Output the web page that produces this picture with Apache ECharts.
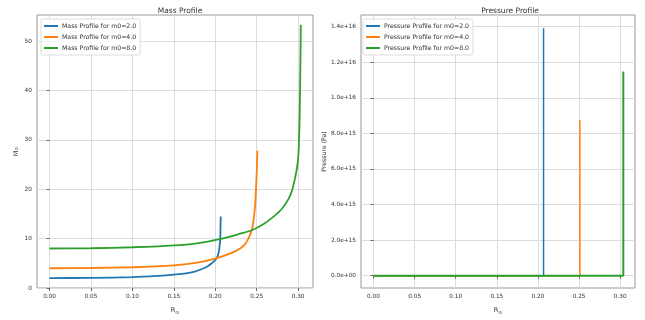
<!DOCTYPE html>
<html>
<head>
<meta charset="utf-8">
<script src="https://cdn.jsdelivr.net/npm/echarts@6/dist/echarts.min.js"></script>
<style>html,body{margin:0;padding:0;background:#fff}#c{width:645px;height:320px}</style>
</head>
<body>
<div id="c"></div>
<script>
// ---- data ----
const xTicks = [0, 0.05, 0.10, 0.15, 0.20, 0.25, 0.30];
const massTicks = [0, 10, 20, 30, 40, 50];
const pressTicks = [0, 2e15, 4e15, 6e15, 8e15, 1.0e16, 1.2e16, 1.4e16];

const massNames = ['Mass Profile for m0=2.0', 'Mass Profile for m0=4.0', 'Mass Profile for m0=8.0'];
const pressNames = ['Pressure Profile for m0=2.0', 'Pressure Profile for m0=4.0', 'Pressure Profile for m0=8.0'];

const mass2R = [0, 0.05, 0.10, 0.13, 0.15, 0.17, 0.18, 0.19, 0.195, 0.199, 0.2016, 0.2035, 0.2048, 0.206, 0.2066];
const mass2M = [2.0, 2.05, 2.2, 2.45, 2.7, 3.1, 3.6, 4.3, 4.9, 5.5, 6.0, 6.8, 7.9, 10.0, 14.5];

const mass4R = [0, 0.05, 0.10, 0.15, 0.18, 0.2008, 0.22, 0.23, 0.236, 0.240, 0.244, 0.2465, 0.248, 0.249, 0.2502, 0.2508];
const mass4M = [4.0, 4.05, 4.2, 4.6, 5.2, 6.0, 7.1, 8.0, 8.9, 10.0, 11.7, 14.0, 16.5, 19.3, 24.0, 27.8];

const mass8R = [0, 0.05, 0.10, 0.157, 0.18, 0.2056, 0.22, 0.2298, 0.244, 0.258, 0.270, 0.2803, 0.2883, 0.2924, 0.2964, 0.2991, 0.3004, 0.3015, 0.3024, 0.3033];
const mass8M = [8.0, 8.05, 8.25, 8.7, 9.1, 9.9, 10.5, 11.0, 11.7, 12.9, 14.4, 16.0, 18.0, 19.6, 22.3, 24.8, 27.0, 32.0, 40.0, 53.3];

const press2R = [0, 0.2068, 0.2068];
const press2P = [0, 0, 1.39e16];
const press4R = [0, 0.2510, 0.2510];
const press4P = [0, 0, 8.73e15];
const press8R = [0, 0.3038, 0.3038];
const press8P = [0, 0, 1.148e16];

const colors = ['#1f77b4', '#ff7f0e', '#2ca02c'];

// ---- build ----
const zip = (a, b) => a.map((v, i) => [v, b[i]]);
const FONT = 'DejaVu Sans';
const fmtX = v => v.toFixed(2);
const fmtP = v => {
  if (v === 0) return '0.0e+00';
  const e = Math.floor(Math.log10(Math.abs(v)) + 1e-9);
  const m = v / Math.pow(10, e);
  return m.toFixed(1) + 'e+' + String(e).padStart(2, '0');
};

function xAxis(gi) {
  return {
    type: 'value', gridIndex: gi, min: -0.0152, max: 0.318,
    name: 'R{s|⊙}', nameLocation: 'middle', nameGap: 17,
    nameTextStyle: { fontFamily: FONT, fontSize: 6.5, color: '#333', rich: { s: { fontSize: 4.5, padding: [5, 0, 0, 0], fontFamily: FONT, color: '#333' } } },
    axisLine: { show: false },
    axisTick: { show: true, length: 3, customValues: xTicks, lineStyle: { color: '#666' } },
    axisLabel: { customValues: xTicks, formatter: fmtX, fontFamily: FONT, fontSize: 5.8, color: '#333', margin: 5 },
    splitLine: { show: true, lineStyle: { color: '#dcdcdc', width: 1 } }
  };
}

function massSeries(i, r, m) {
  return { name: massNames[i], type: 'line', xAxisIndex: 0, yAxisIndex: 0, data: zip(r, m), showSymbol: false,
    smooth: 0.2, lineStyle: { width: 1.8, color: colors[i] }, itemStyle: { color: colors[i] } };
}
function pressSeries(i, r, p, w) {
  return { name: pressNames[i], type: 'line', xAxisIndex: 1, yAxisIndex: 1, data: zip(r, p), showSymbol: false,
    lineStyle: { width: w, color: colors[i] }, itemStyle: { color: colors[i] } };
}

const legendBase = { orient: 'vertical', top: 19, itemWidth: 14, itemHeight: 2, itemGap: 5, icon: 'rect',
  padding: [4, 4, 4, 3], borderColor: '#ddd', borderWidth: 1, borderRadius: 2, backgroundColor: 'rgba(255,255,255,0.85)',
  textStyle: { fontFamily: FONT, fontSize: 6.2, color: '#333', padding: [0, 0, 0, -1] } };

const option = {
  animation: false,
  backgroundColor: '#fff',
  color: colors,
  title: [
    { text: 'Mass Profile', left: 175, top: 2, textAlign: 'center', textStyle: { fontFamily: FONT, fontSize: 7.5, fontWeight: 'normal', color: '#333' } },
    { text: 'Pressure Profile', left: 505, top: 2, textAlign: 'center', textStyle: { fontFamily: FONT, fontSize: 7.5, fontWeight: 'normal', color: '#333' } }
  ],
  grid: [
    { left: 37, right: 332, top: 15, bottom: 31, show: true, borderColor: '#999', borderWidth: 1, backgroundColor: 'transparent' },
    { left: 361, right: 10, top: 15, bottom: 31, show: true, borderColor: '#999', borderWidth: 1, backgroundColor: 'transparent' }
  ],
  legend: [
    Object.assign({}, legendBase, { data: massNames, left: 41 }),
    Object.assign({}, legendBase, { data: pressNames, left: 363 })
  ],
  xAxis: [xAxis(0), xAxis(1)],
  yAxis: [
    { type: 'value', gridIndex: 0, min: 0, max: 55.3, interval: 10,
      name: 'M{s|⊙}', nameLocation: 'middle', nameGap: 17, nameRotate: 90,
      nameTextStyle: { fontFamily: FONT, fontSize: 6.5, color: '#333', rich: { s: { fontSize: 4.5, fontFamily: FONT, color: '#333' } } },
      axisLine: { show: false },
      axisTick: { show: true, length: 3, customValues: massTicks, lineStyle: { color: '#666' } },
      axisLabel: { customValues: massTicks, fontFamily: FONT, fontSize: 5.8, color: '#333', margin: 5 },
      splitLine: { show: true, lineStyle: { color: '#dcdcdc', width: 1 } } },
    { type: 'value', gridIndex: 1, min: -6.9e14, max: 1.465e16,
      name: 'Pressure (Pa)', nameLocation: 'middle', nameGap: 33, nameRotate: 90,
      nameTextStyle: { fontFamily: FONT, fontSize: 6.2, color: '#333' },
      axisLine: { show: false },
      axisTick: { show: true, length: 3, customValues: pressTicks, lineStyle: { color: '#666' } },
      axisLabel: { customValues: pressTicks, formatter: fmtP, fontFamily: FONT, fontSize: 5.8, color: '#333', margin: 5 },
      splitLine: { show: true, lineStyle: { color: '#dcdcdc', width: 1 } } }
  ],
  series: [
    massSeries(0, mass2R, mass2M),
    massSeries(1, mass4R, mass4M),
    massSeries(2, mass8R, mass8M),
    pressSeries(0, press2R, press2P, 1.5),
    pressSeries(1, press4R, press4P, 1.5),
    pressSeries(2, press8R, press8P, 2)
  ]
};

const chart = echarts.init(document.getElementById('c'), null, { renderer: 'canvas' });
chart.setOption(option);
</script>
</body>
</html>
